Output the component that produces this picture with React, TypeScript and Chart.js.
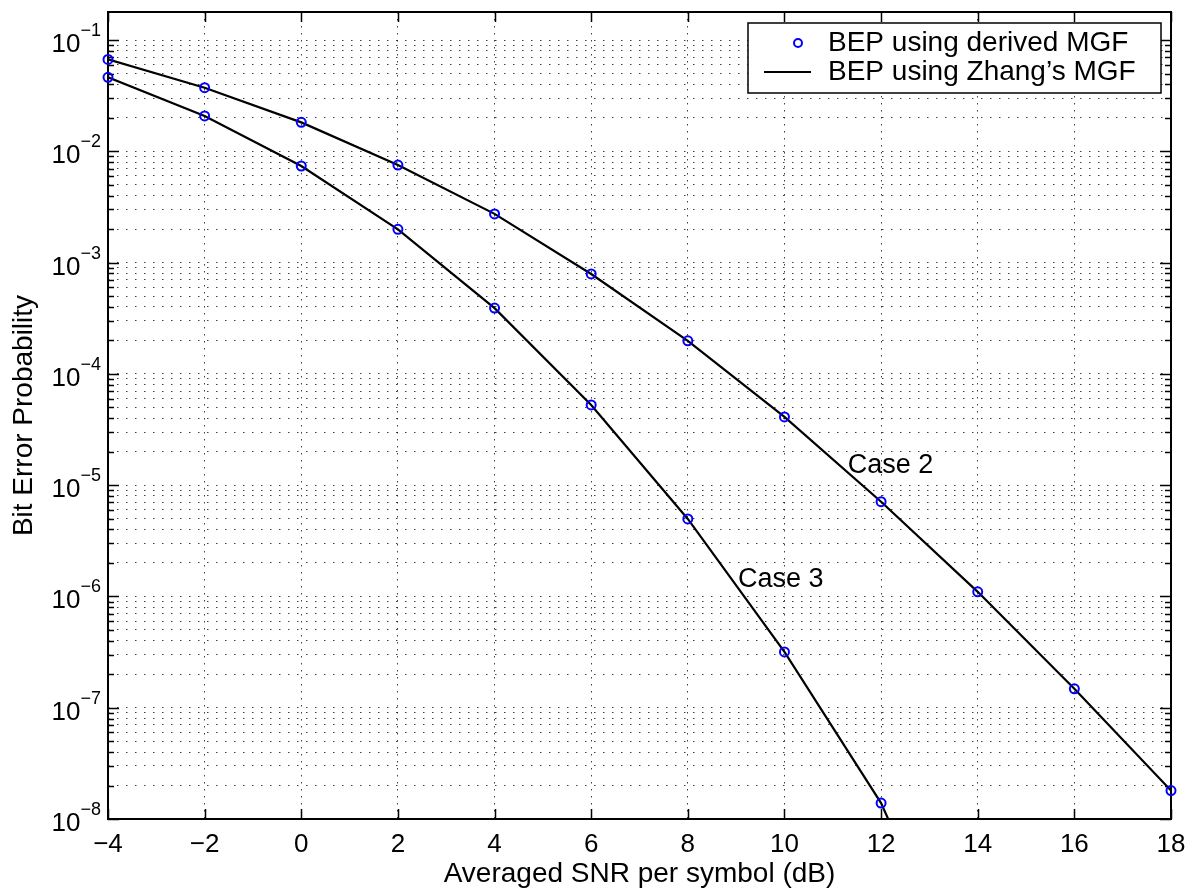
import { useEffect, useRef } from 'react';
import { Chart, registerables } from 'chart.js';

Chart.register(...registerables);

// ---- data ----
const snrCase2 = [-4, -2, 0, 2, 4, 6, 8, 10, 12, 14, 16, 18];
const bepCase2 = [0.067, 0.0373, 0.0182, 0.00753, 0.00274, 7.9e-4, 1.98e-4, 4.1e-5, 7.1e-6, 1.1e-6, 1.48e-7, 1.8e-8];
const snrCase3 = [-4, -2, 0, 2, 4, 6, 8, 10, 12, 14];
const bepCase3 = [0.0462, 0.0208, 0.00738, 1.99e-3, 3.9e-4, 5.26e-5, 4.97e-6, 3.17e-7, 1.39e-8, 1.56e-10];

const xTickMin = -4;
const xTickMax = 18;
const xTickStep = 2;
const yMin = 1e-8;
const yMax = 0.1786;
const yDecadeExponents = [-8, -7, -6, -5, -4, -3, -2, -1];

const legendLabels = ['BEP using derived MGF', 'BEP using Zhang\u2019s MGF'];
const xTitle = 'Averaged SNR per symbol (dB)';
const yTitle = 'Bit Error Probability';
const caseLabels = ['Case 2', 'Case 3'];
const caseLabelX = [11.31, 9.04];
const caseLabelY = [1.29e-5, 1.22e-6];

const FONT = "'Liberation Sans', Arial, Helvetica, sans-serif";
const MARKER_BLUE = '#0000ff';

// grid values: all 1..9 x 10^d inside range
const yGridValues: number[] = [];
yDecadeExponents.forEach((e) => {
  for (let k = 1; k <= 9; k++) {
    const v = k * Math.pow(10, e);
    if (v >= yMin && v <= yMax * 1.0001) yGridValues.push(v);
  }
});

const matlabPlugin = {
  id: 'matlabFrame',
  beforeDatasetsDraw(chart: any) {
    const { ctx, chartArea } = chart;
    const { left, right, top, bottom } = chartArea;
    const xs = chart.scales.x;
    const ys = chart.scales.y;
    ctx.save();
    ctx.strokeStyle = '#000';
    ctx.lineWidth = 1.5;
    ctx.setLineDash([]);
    // x ticks (inward, top and bottom)
    xs.ticks.forEach((t: any) => {
      const px = Math.round(xs.getPixelForValue(t.value)) + 0.5;
      ctx.beginPath();
      ctx.moveTo(px, bottom);
      ctx.lineTo(px, bottom - 10);
      ctx.moveTo(px, top);
      ctx.lineTo(px, top + 10);
      ctx.stroke();
    });
    // y ticks (inward, left and right)
    yGridValues.forEach((v) => {
      const py = Math.round(ys.getPixelForValue(v)) + 0.5;
      const m = Math.log10(v);
      const isMajor = Math.abs(m - Math.round(m)) < 1e-9;
      const len = isMajor ? 11 : 6;
      ctx.beginPath();
      ctx.moveTo(left, py);
      ctx.lineTo(left + len, py);
      ctx.moveTo(right, py);
      ctx.lineTo(right - len, py);
      ctx.stroke();
    });
    // box
    ctx.lineWidth = 2;
    ctx.strokeRect(left, top, right - left, bottom - top);
    ctx.restore();
  },
  afterDraw(chart: any) {
    const { ctx, chartArea } = chart;
    const xs = chart.scales.x;
    const ys = chart.scales.y;
    ctx.save();
    ctx.fillStyle = '#000';
    // y tick labels 10^n
    yDecadeExponents.forEach((e) => {
      const py = ys.getPixelForValue(Math.pow(10, e));
      const expText = '\u2212' + Math.abs(e);
      ctx.font = `18px ${FONT}`;
      const expW = ctx.measureText(expText).width;
      const expRight = chartArea.left - 7;
      ctx.textAlign = 'right';
      ctx.textBaseline = 'alphabetic';
      ctx.fillText(expText, expRight, py - 4);
      ctx.font = `26px ${FONT}`;
      ctx.fillText('10', expRight - expW, py + 12);
    });
    // case annotations
    ctx.font = `27px ${FONT}`;
    ctx.textAlign = 'left';
    ctx.textBaseline = 'alphabetic';
    caseLabels.forEach((txt, i) => {
      ctx.fillText(txt, xs.getPixelForValue(caseLabelX[i]), ys.getPixelForValue(caseLabelY[i]));
    });
    // legend
    const bw = 413;
    const bh = 70;
    const bx = chartArea.right - 10 - bw;
    const by = chartArea.top + 11;
    ctx.fillStyle = '#fff';
    ctx.fillRect(bx, by, bw, bh);
    ctx.strokeStyle = '#000';
    ctx.lineWidth = 1.5;
    ctx.strokeRect(bx, by, bw, bh);
    // marker sample
    ctx.strokeStyle = MARKER_BLUE;
    ctx.lineWidth = 2;
    ctx.beginPath();
    ctx.arc(bx + 50, by + 20, 4, 0, Math.PI * 2);
    ctx.stroke();
    // line sample
    ctx.strokeStyle = '#000';
    ctx.lineWidth = 2;
    ctx.beginPath();
    ctx.moveTo(bx + 16, by + 49);
    ctx.lineTo(bx + 63, by + 49);
    ctx.stroke();
    ctx.fillStyle = '#000';
    ctx.font = `28px ${FONT}`;
    ctx.textAlign = 'left';
    ctx.fillText(legendLabels[0], bx + 80, by + 28);
    ctx.fillText(legendLabels[1], bx + 80, by + 57);
    ctx.restore();
  },
};

export default function App() {
  const canvasRef = useRef<HTMLCanvasElement | null>(null);

  useEffect(() => {
    const canvas = canvasRef.current;
    if (!canvas) return;
    const pts2 = snrCase2.map((x, i) => ({ x, y: bepCase2[i] }));
    const pts3 = snrCase3.map((x, i) => ({ x, y: bepCase3[i] }));
    const markerStyle = {
      showLine: false,
      pointStyle: 'circle',
      pointRadius: 4.5,
      pointHoverRadius: 4.5,
      pointBorderWidth: 2,
      pointBorderColor: MARKER_BLUE,
      pointBackgroundColor: 'rgba(0,0,0,0)',
      borderColor: MARKER_BLUE,
      backgroundColor: 'rgba(0,0,0,0)',
      clip: { left: false, right: false, top: false, bottom: 0 } as any,
    };
    const lineStyle = {
      borderColor: '#000',
      borderWidth: 2.2,
      pointRadius: 0,
      pointHoverRadius: 0,
      fill: false,
      tension: 0,
      clip: 0,
    };
    const chart = new Chart(canvas, {
      type: 'line',
      data: {
        datasets: [
          { label: legendLabels[0], data: pts2, ...markerStyle } as any,
          { label: legendLabels[0], data: pts3, ...markerStyle } as any,
          { label: legendLabels[1], data: pts2, ...lineStyle } as any,
          { label: legendLabels[1], data: pts3, ...lineStyle } as any,
        ],
      },
      options: {
        animation: false,
        responsive: false,
        devicePixelRatio: 1,
        layout: { padding: { left: 0, top: 12, right: 21, bottom: 0 } },
        plugins: {
          legend: { display: false },
          tooltip: { enabled: false },
        },
        scales: {
          x: {
            type: 'linear',
            min: xTickMin,
            max: xTickMax,
            ticks: {
              stepSize: xTickStep,
              autoSkip: false,
              maxRotation: 0,
              color: '#000',
              padding: 10,
              font: { family: FONT, size: 26 },
              callback: (v: any) => (Number(v) < 0 ? '\u2212' + Math.abs(Number(v)) : String(v)),
            },
            grid: { color: 'rgba(0,0,0,0.75)', lineWidth: 1, drawTicks: false },
            border: { display: false, dash: [1.5, 5.5] },
            title: {
              display: true,
              text: xTitle,
              color: '#000',
              font: { family: FONT, size: 28 },
              padding: { top: 0, bottom: 1 },
            },
            afterFit: (s: any) => {
              s.height = 73;
              s.paddingLeft = 0;
              s.paddingRight = 0;
            },
          },
          y: {
            type: 'logarithmic',
            min: yMin,
            max: yMax,
            afterBuildTicks: (s: any) => {
              s.ticks = yGridValues.map((v) => ({ value: v }));
            },
            ticks: { display: false },
            grid: { color: 'rgba(0,0,0,0.75)', lineWidth: 1, drawTicks: false },
            border: { display: false, dash: [1.5, 7.5] },
            title: {
              display: true,
              text: yTitle,
              color: '#000',
              font: { family: FONT, size: 28 },
              padding: { top: 7, bottom: 0 },
            },
            afterFit: (s: any) => {
              s.width = 108;
              s.paddingTop = 0;
              s.paddingBottom = 0;
            },
          },
        },
      } as any,
      plugins: [matlabPlugin],
    });
    return () => chart.destroy();
  }, []);

  return (
    <div style={{ position: 'absolute', left: 0, top: 0, width: 1192, height: 892, background: '#fff' }}>
      <canvas ref={canvasRef} width={1192} height={892} style={{ display: 'block' }} />
    </div>
  );
}
